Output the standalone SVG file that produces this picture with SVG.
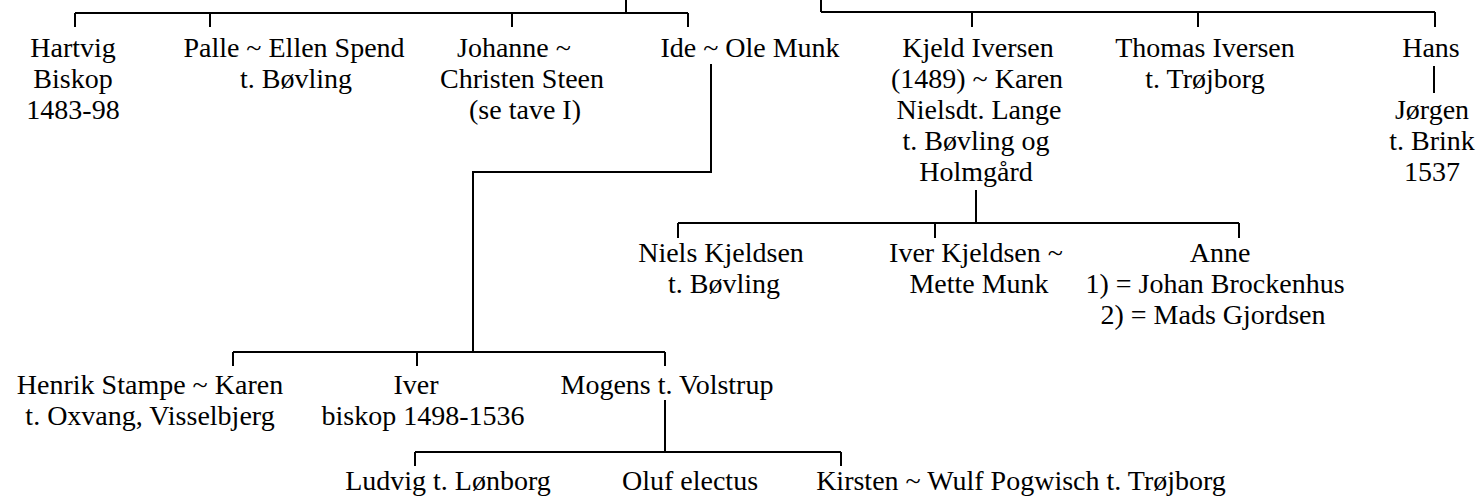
<svg xmlns="http://www.w3.org/2000/svg" width="1479" height="501" viewBox="0 0 1479 501">
<style>
text{font-family:"Liberation Serif","Times New Roman",serif;font-size:28px;fill:#000;text-anchor:middle}
.c{fill:none;stroke:#000;stroke-width:2}
</style>
<rect width="1479" height="501" fill="#fff"/>
<g id="connectors" class="c">
<path d="M626,0V13M75,13H688M75,13V27M210,13V27M512,13V27M688,13V27"/>
<path d="M821,0V12M821,12H1435M972,12V27M1198,12V27M1435,12V27"/>
<path d="M1434,66V93"/>
<path d="M711,64V172H473V352"/>
<path d="M233,352H665M233,352V366M417,352V366M665,352V366"/>
<path d="M976,190V223M678,223H1239M678,223V238M935,223V238M1239,223V238"/>
<path d="M665,400V452M415,452H841M415,452V466M841,452V466"/>
</g>
<g id="hartvig"><text x="73" y="57">Hartvig</text><text x="73" y="88">Biskop</text><text x="73" y="119">1483-98</text></g>
<g id="palle"><text x="294" y="57">Palle ~ Ellen Spend</text><text x="296" y="88">t. Bøvling</text></g>
<g id="johanne"><text x="514" y="57">Johanne ~</text><text x="522" y="88">Christen Steen</text><text x="525" y="119">(se tave I)</text></g>
<g id="ide"><text x="750" y="57">Ide ~ Ole Munk</text></g>
<g id="kjeld"><text x="978" y="57">Kjeld Iversen</text><text x="977" y="88">(1489) ~ Karen</text><text x="979" y="119">Nielsdt. Lange</text><text x="976" y="150">t. Bøvling og</text><text x="976" y="181">Holmgård</text></g>
<g id="thomas"><text x="1205" y="57">Thomas Iversen</text><text x="1205" y="88">t. Trøjborg</text></g>
<g id="hans"><text x="1431" y="57">Hans</text></g>
<g id="jorgen"><text x="1432" y="119">Jørgen</text><text x="1432" y="150">t. Brink</text><text x="1432" y="181">1537</text></g>
<g id="niels"><text x="721" y="262">Niels Kjeldsen</text><text x="724" y="293">t. Bøvling</text></g>
<g id="iverk"><text x="976" y="262">Iver Kjeldsen ~</text><text x="979" y="293">Mette Munk</text></g>
<g id="anne"><text x="1220" y="262">Anne</text><text x="1215" y="293">1) = Johan Brockenhus</text><text x="1213" y="324">2) = Mads Gjordsen</text></g>
<g id="henrik"><text x="150" y="394">Henrik Stampe ~ Karen</text><text x="150" y="425">t. Oxvang, Visselbjerg</text></g>
<g id="iver"><text x="416" y="394">Iver</text><text x="423" y="425">biskop 1498-1536</text></g>
<g id="mogens"><text x="667" y="394">Mogens t. Volstrup</text></g>
<g id="ludvig"><text x="448" y="490">Ludvig t. Lønborg</text></g>
<g id="oluf"><text x="690" y="490">Oluf electus</text></g>
<g id="kirsten"><text x="1021" y="490">Kirsten ~ Wulf Pogwisch t. Trøjborg</text></g>
</svg>
